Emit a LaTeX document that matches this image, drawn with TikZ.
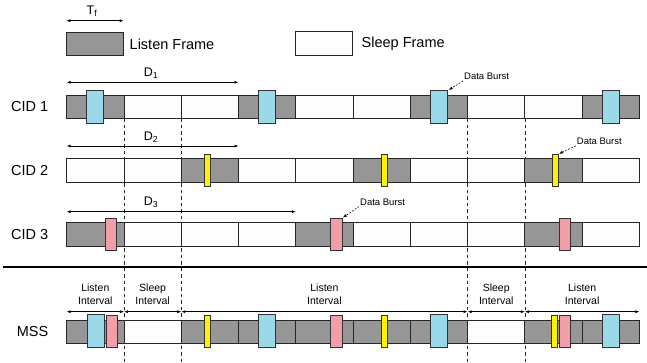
\documentclass[tikz,border=0pt]{standalone}
\usepackage{fontspec}
\setmainfont{Liberation Sans}
\usetikzlibrary{arrows.meta,calc}
\definecolor{FL}{HTML}{969696}
\definecolor{FS}{HTML}{FDFDFD}
\definecolor{cblue}{HTML}{99D9EA}
\definecolor{cpink}{HTML}{F29DA8}
\definecolor{cyellow}{HTML}{FFF200}
\begin{document}
\begin{tikzpicture}[x=1pt,y=-1pt,
  frame/.style={draw=black!85, fill=#1, line width=0.8pt, minimum width=57.27pt, minimum height=23.3pt, inner sep=0pt, outer sep=0pt},
  bblue/.style={draw=black!80, fill=cblue, line width=0.8pt, minimum width=17pt, minimum height=33pt, inner sep=0pt, outer sep=0pt},
  bpink/.style={bblue, fill=cpink, minimum width=11.4pt, minimum height=32pt},
  byellow/.style={bblue, fill=cyellow, minimum width=6pt, minimum height=32pt},
  dimarrow/.style={{Latex[length=4pt,width=3pt]}-{Latex[length=4pt,width=3pt]}, line width=0.6pt},
  vdash/.style={dash pattern=on 3.5pt off 3pt, line width=0.7pt, black!85},
  dbarrow/.style={-{Latex[length=4pt,width=3pt]}, dash pattern=on 1.8pt off 1.5pt, line width=0.6pt, shorten >=1pt},
  dbtext/.style={font=\fontsize{9.5}{11}\selectfont, inner sep=1pt, anchor=west},
  rowlab/.style={font=\fontsize{14.5}{17}\selectfont, inner sep=0pt, anchor=east},
  leglab/.style={font=\fontsize{14.5}{17}\selectfont, inner sep=0pt, anchor=west},
  dimlab/.style={font=\fontsize{12.5}{14}\selectfont, inner sep=0pt},
  intlab/.style={font=\fontsize{10.5}{12.6}\selectfont, align=center, inner sep=0pt, anchor=south, yshift=7pt}
]
\useasboundingbox (0,0) rectangle (647,362);
\coordinate (bot) at (0,362);

% legend
\node[frame=FL] (legL) at (95,43.8) {};
\node[frame=FS] (legS) at (324,43.3) {};
\node[leglab] (legLt) at (129.5,44.3) {Listen Frame};
\node[leglab] (legSt) at (361.5,43.3) {Sleep Frame};
\coordinate (tfy) at (0,20.7);
\draw[dimarrow] (legL.north west |- tfy) -- (legL.north east |- tfy);
\node[dimlab] (tf) at (92,11) {T\textsubscript{f}};

% rows of frames
\foreach \i/\f in {0/FL,1/FS,2/FS,3/FL,4/FS,5/FS,6/FL,7/FS,8/FS,9/FL}
  \node[frame=\f] (c1f\i) at ({95.335+57.27*\i},106.7) {};
\foreach \i/\f in {0/FS,1/FS,2/FL,3/FS,4/FS,5/FL,6/FS,7/FS,8/FL,9/FS}
  \node[frame=\f] (c2f\i) at ({95.335+57.27*\i},170.4) {};
\foreach \i/\f in {0/FL,1/FS,2/FS,3/FS,4/FL,5/FS,6/FS,7/FS,8/FL,9/FS}
  \node[frame=\f] (c3f\i) at ({95.335+57.27*\i},234.4) {};

% vertical dashed lines
\foreach \i in {1,2,7,8}
  \draw[vdash] (c1f\i.south west) -- (c1f\i.south west |- bot);

\foreach \i/\f in {0/FL,1/FS,2/FL,3/FL,4/FL,5/FL,6/FL,7/FS,8/FL,9/FL}
  \node[frame=\f] (mf\i) at ({95.335+57.27*\i},331.7) {};
% redraw CID rows over dashed lines
\foreach \i/\f in {1/FS,2/FS,7/FS,8/FS}
  \node[frame=\f] (c1r\i) at ({95.335+57.27*\i},106.7) {};
\foreach \i/\f in {1/FS,2/FL,7/FS,8/FL}
  \node[frame=\f] (c2r\i) at ({95.335+57.27*\i},170.4) {};
\foreach \i/\f in {1/FS,2/FS,7/FS,8/FL}
  \node[frame=\f] (c3r\i) at ({95.335+57.27*\i},234.4) {};

% bursts CID1
\node[bblue] (c1b0) at (95.3,107) {};
\node[bblue] (c1b3) at (267.3,107) {};
\node[bblue] (c1b6) at (439.3,107) {};
\node[bblue] (c1b9) at (611,107) {};
% bursts CID2
\node[byellow] (c2b2) at (207.2,170.3) {};
\node[byellow] (c2b5) at (384.7,170.3) {};
\node[byellow] (c2b8) at (555.1,170.3) {};
% bursts CID3
\node[bpink] (c3b0) at (111,234.2) {};
\node[bpink] (c3b4) at (336.3,234.2) {};
\node[bpink] (c3b8) at (565,234.2) {};
% bursts MSS
\node[bblue] (mb0) at (95.8,331.3) {};
\node[bblue] (mb3) at (267.3,331.3) {};
\node[bblue] (mb6) at (439.2,331.3) {};
\node[bblue] (mb9) at (611,331.3) {};
\node[bpink] (mp0) at (111.7,331.3) {};
\node[bpink] (mp4) at (336.3,331.3) {};
\node[bpink] (mp8) at (565,331.3) {};
\node[byellow] (my2) at (207.2,331.3) {};
\node[byellow] (my5) at (384.8,331.3) {};
\node[byellow] (my8) at (554.7,331.3) {};

% row labels
\node[rowlab] (lab1) at (48.5,106.7) {CID 1};
\node[rowlab] (lab2) at (48.5,170.4) {CID 2};
\node[rowlab] (lab3) at (48.5,234.4) {CID 3};
\node[rowlab] (labm) at (48.5,331.7) {MSS};

% D arrows
\coordinate (d1y) at (0,82.3);
\coordinate (d2y) at (0,146);
\coordinate (d3y) at (0,211.7);
\draw[dimarrow] (c1f0.north west |- d1y) -- (c1f3.north west |- d1y);
\draw[dimarrow] (c2f0.north west |- d2y) -- (c2f3.north west |- d2y);
\draw[dimarrow] (c3f0.north west |- d3y) -- (c3f4.north west |- d3y);
\node[dimlab] (d1) at (151,73.3) {D\textsubscript{1}};
\node[dimlab] (d2) at (151,137.3) {D\textsubscript{2}};
\node[dimlab] (d3) at (151,202.7) {D\textsubscript{3}};

% data burst annotations
\node[dbtext] (db1) at (463,76.5) {Data Burst};
\draw[dbarrow] (db1.south west) -- (c1b6.north east);
\node[dbtext] (db2) at (575.7,141.3) {Data Burst};
\draw[dbarrow] (db2.south west) -- (c2b8.north east);
\node[dbtext] (db3) at (359,202) {Data Burst};
\draw[dbarrow] (db3.south west) -- (c3b4.north east);

% separator
\coordinate (sepL) at (3,267.3);
\coordinate (sepR) at (647,267.3);
\draw[line width=2pt] (sepL) -- (sepR);

% intervals
\coordinate (iy) at (0,311.7);
\draw[dimarrow] (mf0.north west |- iy) -- node[intlab] (i1) {Listen\\Interval} (mf1.north west |- iy);
\draw[dimarrow] (mf1.north west |- iy) -- node[intlab] (i2) {Sleep\\Interval} (mf2.north west |- iy);
\draw[dimarrow] (mf2.north west |- iy) -- node[intlab] (i3) {Listen\\Interval} (mf7.north west |- iy);
\draw[dimarrow] (mf7.north west |- iy) -- node[intlab] (i4) {Sleep\\Interval} (mf8.north west |- iy);
\draw[dimarrow] (mf8.north west |- iy) -- node[intlab] (i5) {Listen\\Interval} (mf9.north east |- iy);
\end{tikzpicture}
\end{document}
